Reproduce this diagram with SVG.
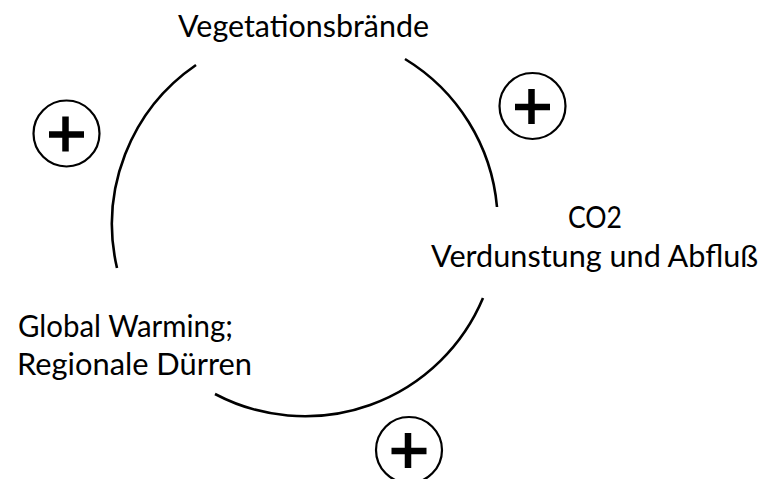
<svg xmlns="http://www.w3.org/2000/svg" xmlns:xlink="http://www.w3.org/1999/xlink" width="761" height="479" viewBox="0 0 761 479">
<style>
.lbl{font-family:Lato,"Open Sans","Noto Sans",sans-serif;font-size:31px;fill:#000;}
.arc{fill:none;stroke:#000;stroke-width:2.6;}
.pc{fill:none;stroke:#000;stroke-width:2.2;}
.pl{fill:none;stroke:#000;stroke-width:6.5;}
</style>
<defs>
<g id="plus">
<circle class="pc" cx="0" cy="0" r="33"/>
<path class="pl" d="M-17.5 1 H17.5 M-1 -17 V18"/>
</g>
</defs>
<rect width="761" height="479" fill="#fff"/>
<g id="connectors">
<path class="arc" d="M196 65 A193 193 0 0 0 117 268"/>
<path class="arc" d="M405 59 A193 193 0 0 1 497 207"/>
<path class="arc" d="M483 298 A193 193 0 0 1 215 394"/>
</g>
<g id="node-vegetationsbraende">
<text class="lbl" x="178" y="37" textLength="251" lengthAdjust="spacingAndGlyphs">Vegetationsbrände</text>
</g>
<g id="node-co2">
<text class="lbl" x="568" y="228" textLength="54" lengthAdjust="spacingAndGlyphs">CO2</text>
<text class="lbl" x="431" y="267" textLength="327" lengthAdjust="spacingAndGlyphs">Verdunstung und Abfluß</text>
</g>
<g id="node-global-warming">
<text class="lbl" x="18" y="337" textLength="215" lengthAdjust="spacingAndGlyphs">Global Warming;</text>
<text class="lbl" x="17" y="375" textLength="235" lengthAdjust="spacingAndGlyphs">Regionale Dürren</text>
</g>
<g id="plus-left"><use xlink:href="#plus" href="#plus" transform="translate(66.5 133.5)"/></g>
<g id="plus-right"><use xlink:href="#plus" href="#plus" transform="translate(532.5 106)"/></g>
<g id="plus-bottom"><use xlink:href="#plus" href="#plus" transform="translate(409 450)"/></g>
</svg>
